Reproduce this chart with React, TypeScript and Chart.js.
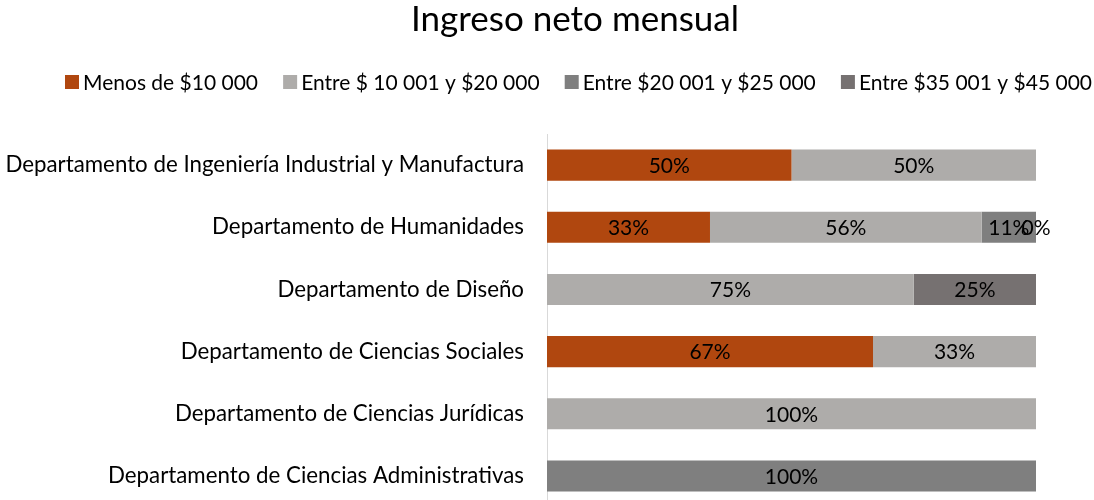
import React, { useEffect, useRef } from "react";
import { Chart, registerables } from "chart.js";

Chart.register(...registerables);

const titleText = "Ingreso neto mensual";

const categories = [
  "Departamento de Ingeniería Industrial y Manufactura",
  "Departamento de Humanidades",
  "Departamento de Diseño",
  "Departamento de Ciencias Sociales",
  "Departamento de Ciencias Jurídicas",
  "Departamento de Ciencias Administrativas",
];

const seriesNames = [
  "Menos de $10 000",
  "Entre $ 10 001 y $20 000",
  "Entre $20 001 y $25 000",
  "Entre $35 001 y $45 000",
];

const menos10000 = [50, 33.33, null, 66.67, null, null];
const entre10001y20000 = [50, 55.56, 75, 33.33, 100, null];
const entre20001y25000 = [null, 11.11, null, null, null, 100];
const entre35001y45000 = [null, 0, 25, null, null, null];

const colors = ["#B0470F", "#AEACAA", "#7F7F7F", "#767171"];

const FONT = "Lato, 'Open Sans', sans-serif";

const labelPlugin = {
  id: "barLabels",
  afterDatasetsDraw(chart: any) {
    const ctx = chart.ctx;
    ctx.save();
    ctx.font = `21px ${FONT}`;
    ctx.fillStyle = "#000000";
    ctx.textAlign = "center";
    ctx.textBaseline = "middle";
    chart.data.datasets.forEach((ds: any, i: number) => {
      const meta = chart.getDatasetMeta(i);
      meta.data.forEach((el: any, j: number) => {
        const v = ds.data[j];
        if (v === null || v === undefined) return;
        const cx = (el.x + el.base) / 2;
        ctx.fillText(Math.round(v) + "%", cx, el.y + 1);
      });
    });
    ctx.restore();
  },
};

const headerPlugin = {
  id: "header",
  afterDraw(chart: any) {
    const ctx = chart.ctx;
    ctx.save();
    // title
    ctx.font = `35px ${FONT}`;
    ctx.fillStyle = "#000000";
    ctx.textAlign = "center";
    ctx.textBaseline = "alphabetic";
    ctx.fillText(titleText, 575, 31);
    // legend
    ctx.font = `21px ${FONT}`;
    ctx.textAlign = "left";
    ctx.textBaseline = "middle";
    const box = 14;
    const gapText = 4;
    const widths = seriesNames.map((n) => ctx.measureText(n).width);
    const startX = 65;
    const endX = 1092;
    const used = widths.reduce((a, w) => a + box + gapText + w, 0);
    const gapItem = (endX - startX - used) / (seriesNames.length - 1);
    let x = startX;
    const cy = 82;
    seriesNames.forEach((n, i) => {
      ctx.fillStyle = colors[i];
      ctx.fillRect(x, cy - box / 2, box, box);
      ctx.fillStyle = "#000000";
      ctx.fillText(n, x + box + gapText, cy + 1);
      x += box + gapText + widths[i] + gapItem;
    });
    ctx.restore();
  },
};

export default function App() {
  const ref = useRef<HTMLCanvasElement>(null);
  useEffect(() => {
    if (!ref.current) return;
    const data = [menos10000, entre10001y20000, entre20001y25000, entre35001y45000];
    const chart = new Chart(ref.current, {
      type: "bar",
      data: {
        labels: categories,
        datasets: seriesNames.map((name, i) => ({
          label: name,
          data: data[i] as any,
          backgroundColor: colors[i],
          borderWidth: 0,
          categoryPercentage: 1,
          barPercentage: 0.5,
        })),
      },
      options: {
        indexAxis: "y",
        responsive: false,
        maintainAspectRatio: false,
        animation: false,
        devicePixelRatio: 1,
        layout: { padding: { left: 0, right: 58, top: 134, bottom: 0 } },
        scales: {
          x: { display: false, stacked: true, min: 0, max: 100 },
          y: {
            stacked: true,
            grid: { display: false, drawTicks: false },
            border: { display: true, color: "#D9D9D9", width: 1 },
            ticks: {
              padding: 23,
              color: "#000000",
              font: { family: FONT, size: 22.3 },
            },
            afterFit(scale: any) {
              scale.width = 547;
              scale.paddingTop = 0;
              scale.paddingBottom = 0;
            },
          },
        },
        plugins: {
          title: { display: false },
          legend: { display: false },
          tooltip: { enabled: false },
        },
      },
      plugins: [labelPlugin, headerPlugin],
    });
    return () => chart.destroy();
  }, []);
  return (
    <div
      style={{
        position: "fixed",
        left: 0,
        top: 0,
        width: 1094,
        height: 500,
        overflow: "hidden",
        background: "#fff",
      }}
    >
      <canvas ref={ref} width={1094} height={507} style={{ display: "block" }} />
    </div>
  );
}
